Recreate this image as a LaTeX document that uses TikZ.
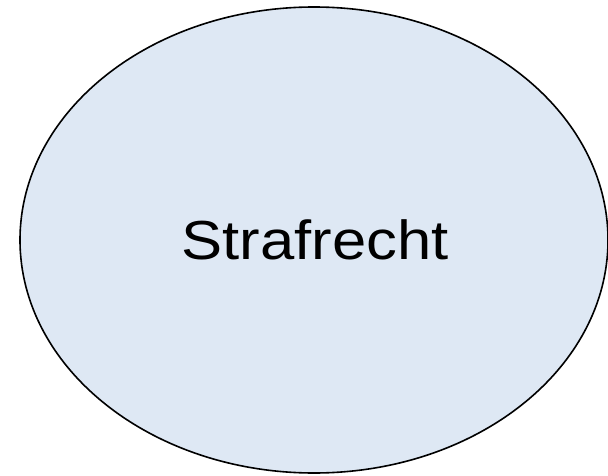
\documentclass[tikz,border=0pt]{standalone}
\usepackage{fontspec}
\setmainfont{Liberation Sans}
\usetikzlibrary{shapes.geometric}
\definecolor{ellfill}{RGB}{222,232,244}
\tikzset{
  bubble/.style={ellipse, draw=black, line width=1.6pt, fill=ellfill, inner sep=0pt,
    minimum width=588pt, minimum height=466pt},
  label/.style={anchor=base, inner sep=0pt, font=\fontsize{55}{60}\selectfont}
}
\begin{document}
\begin{tikzpicture}[x=1pt,y=1pt]
\useasboundingbox (0,0) rectangle (608,475);
\node[bubble] (e) at (314,235) {};
\node[label] (t) at (315,216) {\scalebox{1.12}[1]{Strafrecht}};
\end{tikzpicture}
\end{document}
